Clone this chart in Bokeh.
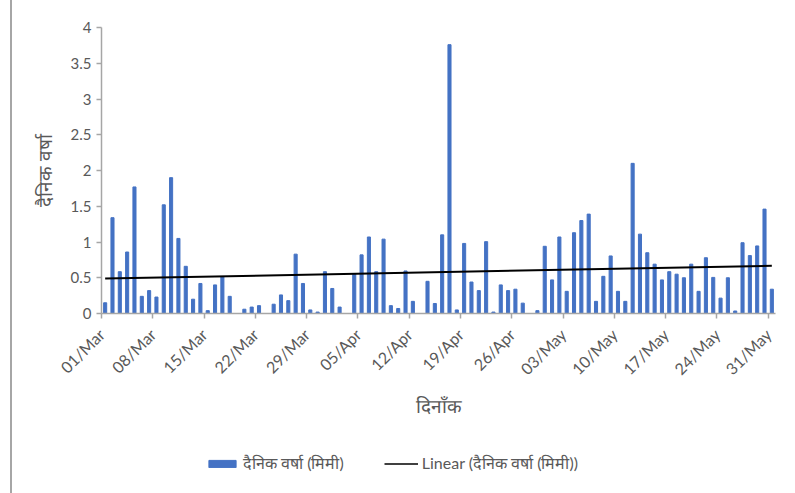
import numpy as np
from bokeh.plotting import figure
from bokeh.models import (FixedTicker, CustomJSTickFormatter, Legend, LegendItem,
                          ColumnDataSource, Range1d)
from bokeh.layouts import column
from bokeh.embed import file_html
from bokeh.resources import INLINE

# Daily rainfall (mm), 01 Mar to 31 May
rain = [
    0.15, 1.34, 0.585, 0.86, 1.77, 0.24, 0.32, 0.23, 1.52, 1.90,
    1.05, 0.66, 0.20, 0.42, 0.04, 0.40, 0.515, 0.24, 0.0, 0.06,
    0.09, 0.11, 0.0, 0.13, 0.26, 0.18, 0.83, 0.42, 0.05, 0.02,
    0.585, 0.35, 0.09, 0.0, 0.55, 0.82, 1.07, 0.585, 1.04, 0.11,
    0.07, 0.595, 0.17, 0.0, 0.45, 0.14, 1.10, 3.76, 0.05, 0.98,
    0.44, 0.32, 1.005, 0.02, 0.40, 0.32, 0.34, 0.145, 0.0, 0.04,
    0.94, 0.47, 1.07, 0.31, 1.13, 1.30, 1.39, 0.17, 0.52, 0.805,
    0.31, 0.17, 2.10, 1.11, 0.85, 0.69, 0.47, 0.585, 0.55, 0.50,
    0.69, 0.31, 0.78, 0.505, 0.215, 0.50, 0.035, 0.99, 0.81, 0.945,
    1.46, 0.34,
]

# Weekly tick positions (day index) and their labels
tick_days = [0, 7, 14, 21, 28, 35, 42, 49, 56, 63, 70, 77, 84, 91]
tick_labels = ["01/Mar", "08/Mar", "15/Mar", "22/Mar", "29/Mar", "05/Apr", "12/Apr",
               "19/Apr", "26/Apr", "03/May", "10/May", "17/May", "24/May", "31/May"]
y_ticks = [0, 0.5, 1, 1.5, 2, 2.5, 3, 3.5, 4]

series_name = "दैनिक वर्षा (मिमी)"
trend_name = "Linear (दैनिक वर्षा (मिमी))"

days = np.arange(len(rain))
xs = days + 0.5  # each day's bar sits between its tick marks
src = ColumnDataSource(dict(x=xs, rain=rain))

# least-squares linear trend over the daily series
slope, intercept = np.polyfit(days, rain, 1)
trend_x = [xs[0], xs[-1]]
trend_y = [intercept + slope * days[0], intercept + slope * days[-1]]

FONT = "Lato"
GREY_TXT = "#595959"
AXIS_GREY = "#a6a6a6"
BAR_BLUE = "#4472C4"
# thin grey rule along the page's left edge, painted behind the transparent border
EDGE_STYLE = {"background": "linear-gradient(to right, white 10px, #a6a6a6 10px, "
                            "#a6a6a6 12px, white 12px)"}

p = figure(width=795, height=440, x_range=Range1d(0, 92), y_range=Range1d(0, 4),
           output_backend="svg", toolbar_location=None,
           min_border_left=101, min_border_right=20, min_border_top=27,
           min_border_bottom=127)

p.vbar(x="x", top="rain", width=0.42, source=src, color=BAR_BLUE)
p.line(trend_x, trend_y, line_color="#000000", line_width=2)

p.xgrid.visible = False
p.ygrid.visible = False
p.outline_line_color = None
p.background_fill_color = "white"
p.border_fill_color = None
p.styles = EDGE_STYLE

xa = p.xaxis[0]
xa.ticker = FixedTicker(ticks=tick_days)
xa.major_label_overrides = {d: lab for d, lab in zip(tick_days, tick_labels)}
xa.major_label_orientation = np.pi / 4
xa.axis_label = "दिनाँक"

ya = p.yaxis[0]
ya.ticker = FixedTicker(ticks=y_ticks)
ya.formatter = CustomJSTickFormatter(code="return tick.toString();")
ya.axis_label = "दैनिक वर्षा"
ya.axis_label_standoff = 12

for ax in (xa, ya):
    ax.axis_line_color = AXIS_GREY
    ax.axis_line_width = 1.5
    ax.major_tick_line_color = AXIS_GREY
    ax.major_tick_line_width = 1.5
    ax.major_tick_out = 5
    ax.major_tick_in = 0
    ax.minor_tick_line_color = None
    ax.major_label_text_font = FONT
    ax.major_label_text_font_size = "15px"
    ax.major_label_text_color = GREY_TXT
    ax.axis_label_text_font = FONT
    ax.axis_label_text_font_size = "19px"
    ax.axis_label_text_font_style = "normal"
    ax.axis_label_text_color = GREY_TXT

xa.major_label_text_font_size = "16px"
xa.major_label_standoff = 13
xa.axis_label_standoff = 6

# legend strip under the chart: same series, drawn out of view so only the key shows
lg = figure(width=795, height=53, x_range=Range1d(0, 92), y_range=Range1d(10, 11),
            output_backend="svg", toolbar_location=None,
            x_axis_location=None, y_axis_location=None,
            min_border_left=0, min_border_right=0, min_border_top=0, min_border_bottom=0)
lg.grid.visible = False
lg.outline_line_color = None
lg.background_fill_color = None
lg.border_fill_color = None
lg.styles = EDGE_STYLE
key_bar = lg.vbar(x="x", top="rain", width=0.42, source=src, color=BAR_BLUE)
key_line = lg.line(trend_x, trend_y, line_color="#000000", line_width=1.5)

legend = Legend(items=[LegendItem(label=series_name, renderers=[key_bar]),
                       LegendItem(label=trend_name, renderers=[key_line])],
                orientation="horizontal", location=(104, 19),
                border_line_color=None, background_fill_alpha=0,
                label_text_font=FONT, label_text_font_size="16px",
                label_text_color=GREY_TXT, glyph_width=34, glyph_height=9,
                spacing=40, label_standoff=4, margin=0, padding=10)
lg.add_layout(legend)

layout = column(p, lg, spacing=0)
open("out.html", "w").write(file_html(layout, INLINE))
